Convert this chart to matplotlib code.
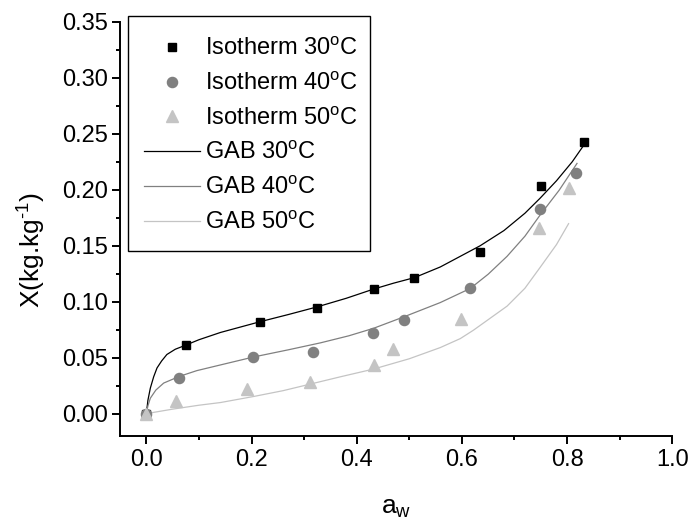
import numpy as np
import matplotlib
matplotlib.use('Agg')
import matplotlib.pyplot as plt
from matplotlib.patches import Rectangle
from matplotlib.ticker import MultipleLocator, FormatStrFormatter

plt.rcParams['font.family'] = ['Liberation Sans', 'DejaVu Sans']
plt.rcParams['mathtext.fontset'] = 'custom'
plt.rcParams['mathtext.rm'] = 'Liberation Sans'
plt.rcParams['mathtext.it'] = 'Liberation Sans:italic'
plt.rcParams['mathtext.bf'] = 'Liberation Sans:bold'

# measured isotherm points (a_w, X)
aw_30 = [0.0, 0.0755, 0.2155, 0.324, 0.432, 0.5095, 0.635, 0.750, 0.833]
x_30 = [0.0, 0.061, 0.0818, 0.0947, 0.1112, 0.1211, 0.1448, 0.2032, 0.2422]

aw_40 = [0.0, 0.0627, 0.2034, 0.317, 0.4316, 0.490, 0.615, 0.7485, 0.818]
x_40 = [0.0, 0.0318, 0.0504, 0.0546, 0.0719, 0.0834, 0.1118, 0.1832, 0.2147]

aw_50 = [0.0, 0.057, 0.192, 0.311, 0.433, 0.470, 0.598, 0.7465, 0.803]
x_50 = [0.0, 0.0114, 0.0219, 0.0279, 0.0432, 0.0578, 0.0842, 0.166, 0.2012]

# GAB model curves
gab_aw_30 = [0.0, 0.003, 0.0076, 0.014, 0.0203, 0.029, 0.039, 0.055, 0.074, 0.1,
             0.141, 0.2155, 0.27, 0.3245, 0.38, 0.432, 0.47, 0.51, 0.559, 0.597,
             0.635, 0.68, 0.72, 0.749, 0.78, 0.81, 0.833]
gab_x_30 = [0.0, 0.012, 0.0228, 0.033, 0.0408, 0.047, 0.0528, 0.0575, 0.061, 0.066,
            0.0725, 0.082, 0.0885, 0.0953, 0.103, 0.1112, 0.1165, 0.1215, 0.131, 0.1405,
            0.150, 0.1635, 0.179, 0.1925, 0.208, 0.225, 0.2405]

gab_aw_40 = [0.0, 0.003, 0.0076, 0.018, 0.033, 0.063, 0.096, 0.141, 0.204, 0.27,
             0.331, 0.385, 0.432, 0.489, 0.559, 0.616, 0.65, 0.686, 0.72, 0.749, 0.785, 0.819]
gab_x_40 = [0.0, 0.007, 0.0138, 0.021, 0.0273, 0.0333, 0.0384, 0.0435, 0.0506, 0.057,
            0.0632, 0.0695, 0.0762, 0.0863, 0.0992, 0.1118, 0.1245, 0.1405, 0.1585, 0.1775,
            0.1995, 0.2235]

gab_aw_50 = [0.0, 0.05, 0.1, 0.141, 0.204, 0.26, 0.312, 0.37, 0.432, 0.5,
             0.559, 0.597, 0.622, 0.686, 0.72, 0.749, 0.78, 0.803]
gab_x_50 = [0.0, 0.004, 0.0075, 0.0099, 0.0153, 0.0205, 0.0264, 0.033, 0.0398, 0.049,
            0.059, 0.067, 0.0745, 0.096, 0.112, 0.1307, 0.151, 0.1697]

fig = plt.figure(figsize=(6.98, 5.25), dpi=100)
ax = fig.add_axes([0.172, 0.1695, 0.791, 0.789])

c30, c40, c50 = '#000000', '#808080', '#c4c4c4'

ax.plot(aw_30, x_30, 's', color=c30, ms=6.3, zorder=3, label='Isotherm 30$^{\\rm o}$C')
ax.plot(aw_40, x_40, 'o', color=c40, ms=7.3, mec=c40, zorder=3, label='Isotherm 40$^{\\rm o}$C')
ax.plot(aw_50, x_50, '^', color=c50, ms=8, mec=c50, zorder=3, label='Isotherm 50$^{\\rm o}$C')
ax.plot(gab_aw_30, gab_x_30, '-', color=c30, lw=0.9, zorder=2, label='GAB 30$^{\\rm o}$C')
ax.plot(gab_aw_40, gab_x_40, '-', color=c40, lw=0.9, zorder=2, label='GAB 40$^{\\rm o}$C')
ax.plot(gab_aw_50, gab_x_50, '-', color=c50, lw=0.9, zorder=2, label='GAB 50$^{\\rm o}$C')

ax.set_xlim(-0.05, 1.0)
ax.set_ylim(-0.02, 0.35)
ax.xaxis.set_major_locator(MultipleLocator(0.2))
ax.xaxis.set_minor_locator(MultipleLocator(0.1))
ax.yaxis.set_major_locator(MultipleLocator(0.05))
ax.yaxis.set_minor_locator(MultipleLocator(0.025))
ax.xaxis.set_major_formatter(FormatStrFormatter('%.1f'))
ax.yaxis.set_major_formatter(FormatStrFormatter('%.2f'))

for s in ['top', 'right']:
    ax.spines[s].set_visible(False)
for s in ['left', 'bottom']:
    ax.spines[s].set_linewidth(1.4)
ax.tick_params(which='major', direction='out', length=6, width=1.4, labelsize=17, pad=3)
ax.tick_params(which='minor', direction='out', length=3, width=1.4)

ax.set_xlabel('a$_{\\rm w}$', fontsize=19)
ax.set_ylabel('X(kg.kg$^{\u20101}$)', fontsize=19)
ax.xaxis.set_label_coords(0.5, -0.145)
ax.yaxis.set_label_coords(-0.13, 0.45)

# legend entries without their own frame; frame drawn separately
leg = ax.legend(loc='upper left', bbox_to_anchor=(144 / 698, 1 - 38 / 525), bbox_transform=fig.transFigure,
                borderaxespad=0, borderpad=0, fontsize=17, frameon=False,
                handlelength=2.37, handletextpad=0.2, labelspacing=0.53)
fig.patches.append(Rectangle((128 / 698, 1 - 251 / 525), 242 / 698, 235 / 525,
                             transform=fig.transFigure, fill=False, ec='black', lw=1.0))

fig.savefig('out.png', dpi=100)
